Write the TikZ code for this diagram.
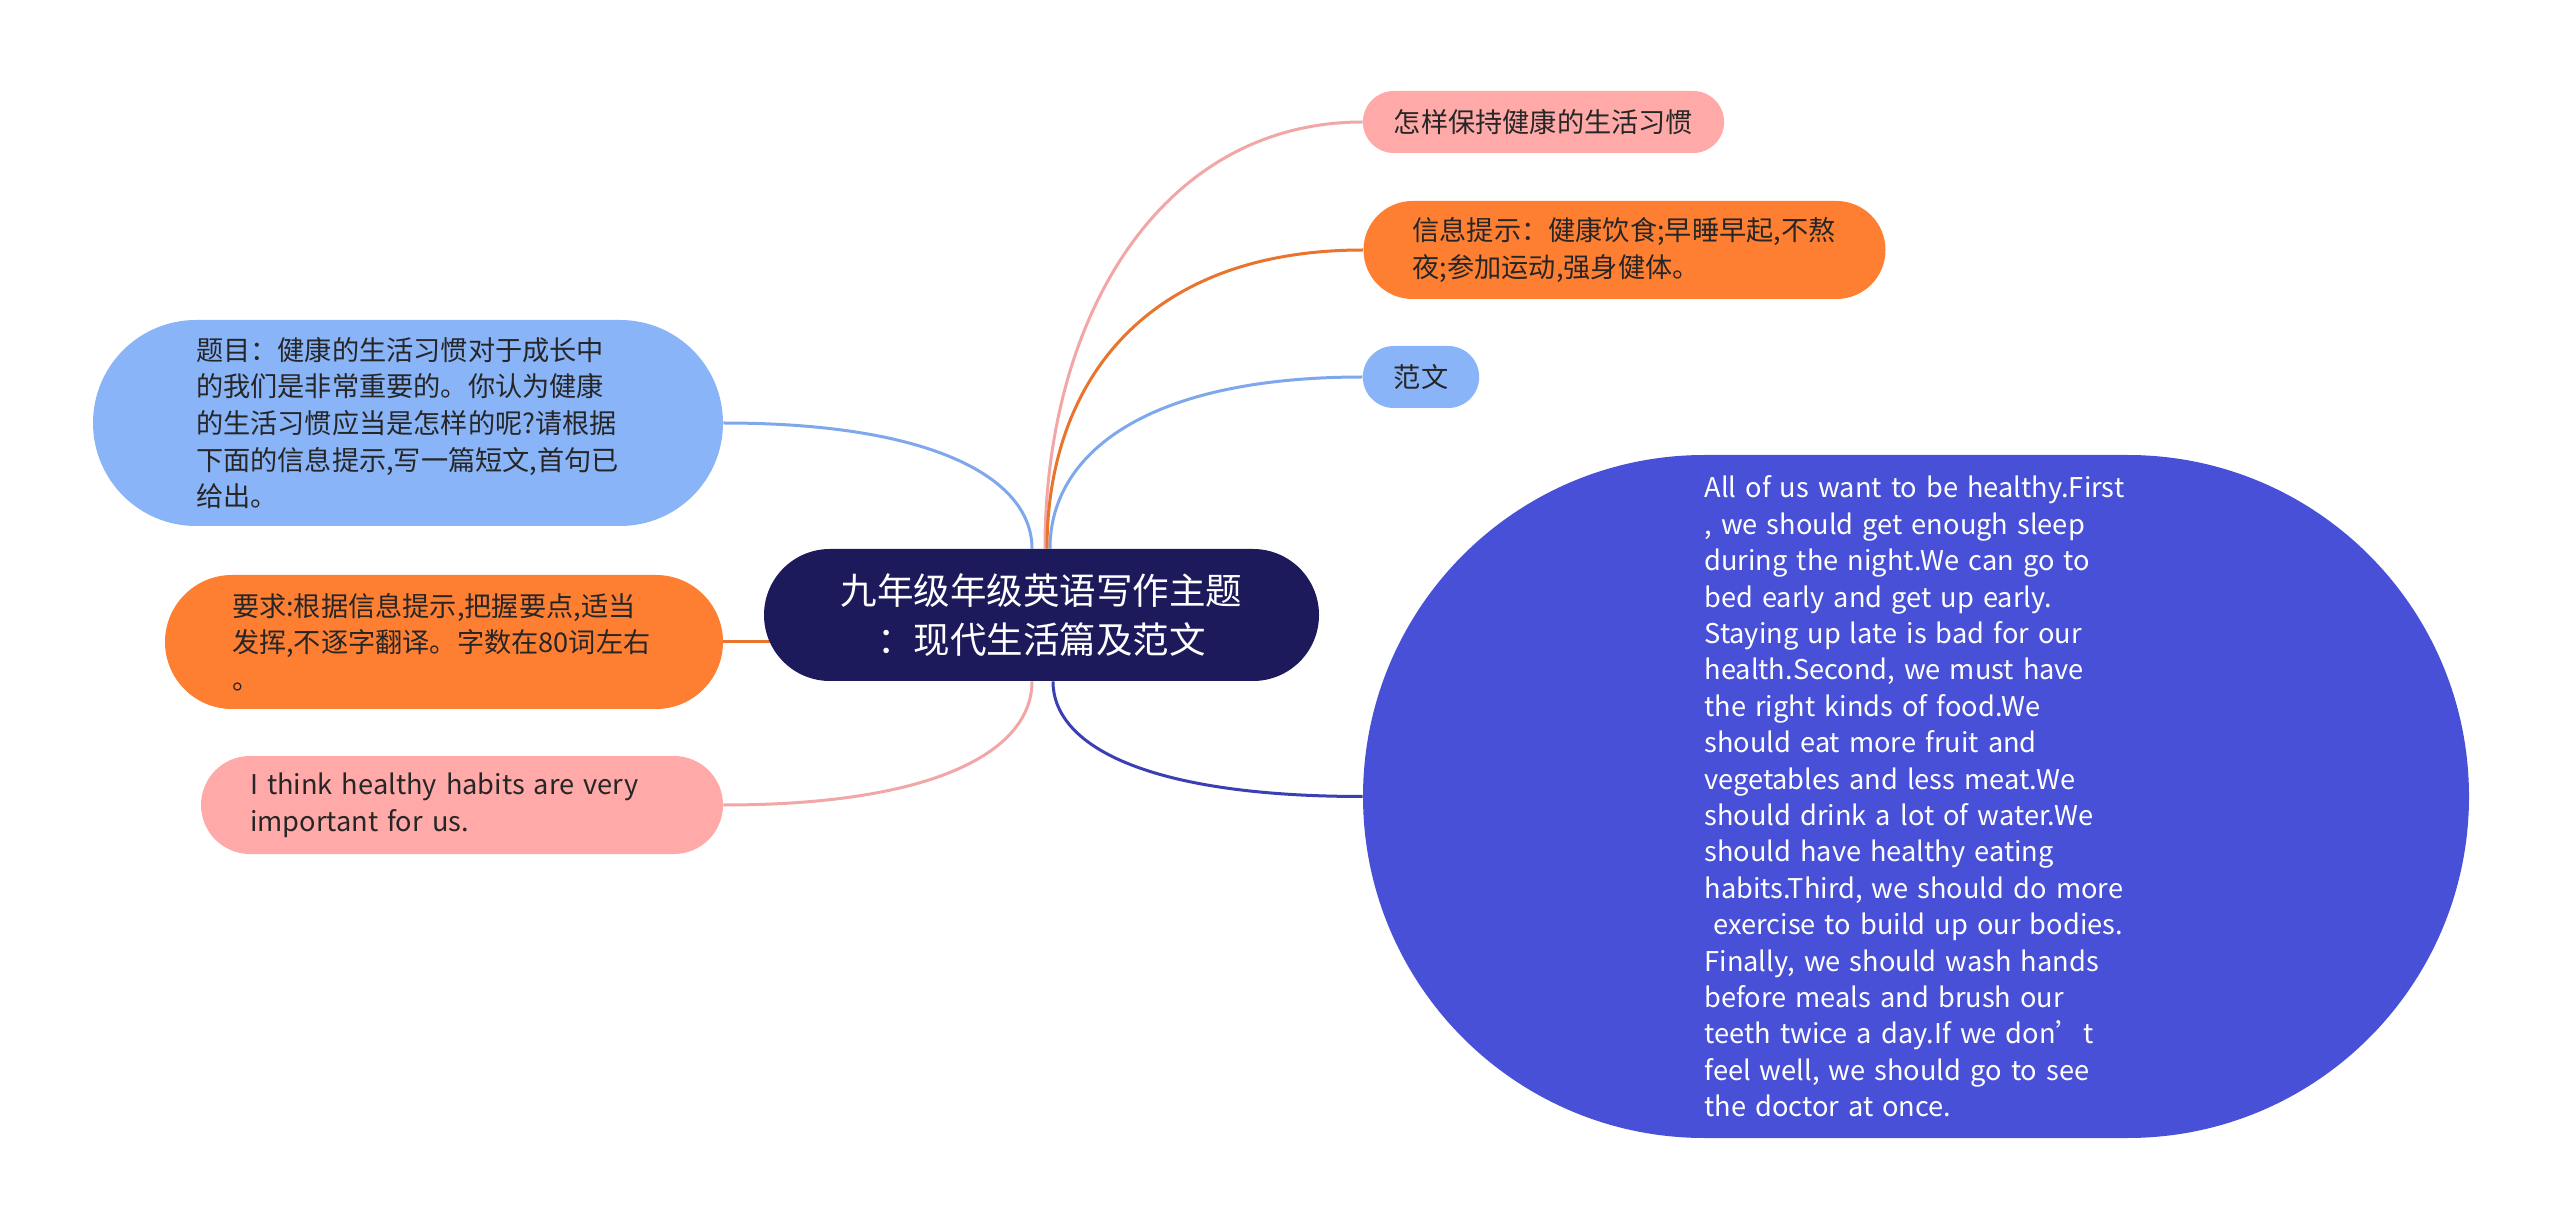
\documentclass[tikz,border=0pt]{standalone}
\usepackage{fontspec}
\setmainfont{Noto Sans CJK SC}
\usetikzlibrary{backgrounds,calc}
\definecolor{cnavy}{HTML}{1C1A5A}
\definecolor{cblue}{HTML}{8AB4F8}
\definecolor{corange}{HTML}{FF7F32}
\definecolor{cpink}{HTML}{FFAAA8}
\definecolor{cbig}{HTML}{4850D8}
\definecolor{lpink}{HTML}{F2A6A5}
\definecolor{lorange}{HTML}{E8742E}
\definecolor{lblue}{HTML}{7FA8EC}
\definecolor{lbig}{HTML}{3A40B4}
\definecolor{ctext}{HTML}{262626}
\newcommand\oneline[1]{\mbox{#1}}
\begin{document}
\begin{tikzpicture}[x=0.5pt,y=-0.5pt,
  pill/.style 2 args={fill=#1, rounded corners=#2, inner xsep=#2, inner ysep=0pt,
    minimum height=2*#2, text=ctext, font=\fontsize{13.6pt}{18.3pt}\selectfont},
  multi/.style={text width=212pt, align=left},
  conn/.style={line width=1.5pt}
]
\useasboundingbox (0,0) rectangle (2560,1229);

\node[pill={cnavy}{33pt}, text=white, align=center,
  font=\fontsize{18.25pt}{24.5pt}\selectfont, minimum width=277.5pt] (c) at (1041.5,615)
  {九年级年级英语写作主题\\：现代生活篇及范文};

\node[pill={cblue}{51.5pt}, multi] (t) at (408,423)
  {题目：健康的生活习惯对于成长中\\的我们是非常重要的。你认为健康\\的生活习惯应当是怎样的呢?请根据\\下面的信息提示,写一篇短文,首句已\\给出。};

\node[pill={corange}{33.5pt}, multi] (r) at (444,642)
  {要求:根据信息提示,把握要点,适当\\发挥,不逐字翻译。字数在80词左右\\。};

\node[pill={cpink}{24.5pt}, multi] (h) at (462,805)
  {\oneline{I think healthy habits are very}\\\oneline{important for us.}};

\node[pill={cpink}{15.5pt}] (p1) at (1543.5,122) {怎样保持健康的生活习惯};

\node[pill={corange}{24.5pt}, multi] (o1) at (1624.5,250)
  {信息提示：健康饮食;早睡早起,不熬\\夜;参加运动,强身健体。};

\node[pill={cblue}{15.5pt}] (b1) at (1421,377) {范文};

\node[pill={cbig}{170.75pt}, text width=211.5pt, align=left, text=white,
  font=\fontsize{13.6pt}{18.2pt}\selectfont] (big) at (1916,796.5)
  {\oneline{All of us want to be healthy.First}\\
   \oneline{, we should get enough sleep}\\
   \oneline{during the night.We can go to}\\
   \oneline{bed early and get up early.}\\
   \oneline{Staying up late is bad for our}\\
   \oneline{health.Second, we must have}\\
   \oneline{the right kinds of food.We}\\
   \oneline{should eat more fruit and}\\
   \oneline{vegetables and less meat.We}\\
   \oneline{should drink a lot of water.We}\\
   \oneline{should have healthy eating}\\
   \oneline{habits.Third, we should do more}\\
   \oneline{\ exercise to build up our bodies.}\\
   \oneline{Finally, we should wash hands}\\
   \oneline{before meals and brush our}\\
   \oneline{teeth twice a day.If we don’t}\\
   \oneline{feel well, we should go to see}\\
   \oneline{the doctor at once.}};

\begin{scope}[on background layer]
  \fill[white] (0,0) rectangle (2560,1229);
  \draw[conn, lpink] ($(c.north)+(3.5,0)$) .. controls +(0,-234) and +(-200,0) .. (p1.west);
  \draw[conn, lorange] ($(c.north)+(5.5,0)$) .. controls +(0,-164) and +(-220,0) .. (o1.west);
  \draw[conn, lblue] ($(c.north)+(8.5,0)$) .. controls +(0,-94) and +(-218,0) .. (b1.west);
  \draw[conn, lblue] ($(c.north)+(-9.5,0)$) .. controls +(0,-68) and +(215,0) .. (t.east);
  \draw[conn, lorange] (r.east) -- ($(r.east -| c.west)+(30,0)$);
  \draw[conn, lpink] ($(c.south)+(-9.5,0)$) .. controls +(0,68) and +(216,0) .. (h.east);
  \draw[conn, lbig] ($(c.south)+(11.5,0)$) .. controls +(0,64) and +(-217,0) .. (big.west);
\end{scope}
\end{tikzpicture}
\end{document}
